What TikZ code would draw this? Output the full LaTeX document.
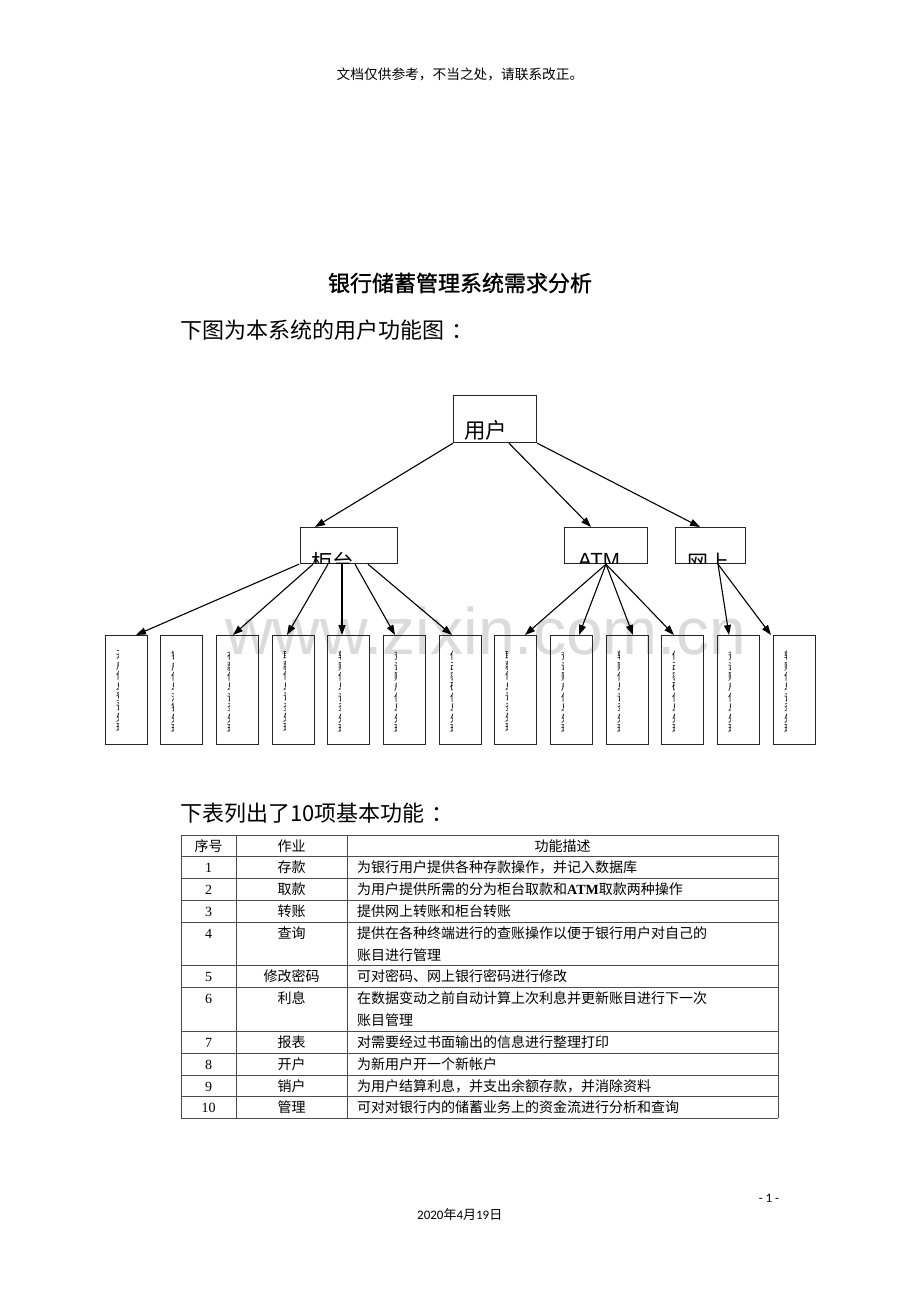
\documentclass[tikz,border=0pt]{standalone}
\usepackage{fontspec}
\setmainfont{Liberation Serif}
\newfontfamily\cjk{Noto Sans CJK SC}
\newfontfamily\cjkbold{Noto Sans CJK SC}[FakeBold=1.2]
\newfontfamily\arialf{Liberation Sans}
\newfontfamily\carl{Carlito}
\usetikzlibrary{arrows.meta,calc}
\newcommand\fsz[1]{\fontsize{#1}{#1}\selectfont}
\begin{document}
\begin{tikzpicture}[x=1pt,y=-1pt,
  box/.style={draw=black!85,line width=1.2pt,inner sep=0pt,anchor=north west},
  leaf/.style={box,minimum width=42pt,minimum height=109pt},
  arr/.style={line width=1.1pt,-{Triangle[length=10pt,width=7pt]}},
  tline/.style={draw=black!70,line width=0.9pt},
  tt/.style={font=\cjk\fsz{14},anchor=base,inner sep=0pt},
  tn/.style={font=\fsz{14},anchor=base,inner sep=0pt},
  td/.style={font=\cjk\fsz{14},anchor=base west,inner sep=0pt},
  lt/.style={anchor=north west,inner sep=0pt,align=left,font=\cjk\fontsize{10}{10.4}\selectfont}
]
\fill[white] (0,0) rectangle (920,1302);
\useasboundingbox (0,0) rectangle (920,1302);

% watermark
\node[anchor=base west,font=\arialf\fsz{66},text=black!14,inner sep=0pt] (wm) at (225,654) {www.zixin.com.cn};

% header / titles
\node[font=\cjk\fsz{13.7},inner sep=0pt] (hdr) at (460,74) {文档仅供参考，不当之处，请联系改正。};
\node[font=\cjkbold\fsz{22},inner sep=0pt] (title) at (460,283) {银行储蓄管理系统需求分析};
\node[font=\cjk\fsz{22},anchor=west,inner sep=0pt] (sub1) at (180,330) {下图为本系统的用户功能图\hspace{7pt}：};
\node[font=\cjk\fsz{22},anchor=west,inner sep=0pt] (sub2) at (180,813) {下表列出了10项基本功能\hspace{7pt}：};

% boxes
\node[box,minimum width=83pt,minimum height=47pt] (u) at (453,395) {};
\node[box,minimum width=97pt,minimum height=36pt] (gt) at (300,527) {};
\node[box,minimum width=83pt,minimum height=36pt] (atm) at (564,527) {};
\node[box,minimum width=70pt,minimum height=36pt] (wl) at (675,527) {};
\node[anchor=base west,font=\cjk\fsz{21.5},inner sep=0pt] (ut) at (464,438) {用户};
\begin{scope}
\clip ($(gt.north west)+(0.6,0.6)$) rectangle ($(gt.south east)+(-0.6,-0.6)$);
\node[anchor=base west,font=\cjk\fsz{21.5},inner sep=0pt] (gtt) at (311,570.5) {柜台};
\end{scope}
\begin{scope}
\clip ($(atm.north west)+(0.6,0.6)$) rectangle ($(atm.south east)+(-0.6,-0.6)$);
\node[anchor=base west,font=\arialf\fsz{20.5},inner sep=0pt] (atmt) at (578,567) {ATM};
\end{scope}
\begin{scope}
\clip ($(wl.north west)+(0.6,0.6)$) rectangle ($(wl.south east)+(-0.6,-0.6)$);
\node[anchor=base west,font=\cjk\fsz{21},inner sep=0pt] (wlt) at (687,570.5) {网上};
\end{scope}

% leaves
\foreach \x [count=\i] in {105,160,216,272,327,383,439,494,550,606,661,717,773}
  \node[leaf] (l\i) at (\x,635) {};

% clipped vertical leaf texts
\foreach \x/\t in {
 105/{开\\户\\信\\息\\登\\记\\处\\理},
 160/{销\\户\\信\\息\\注\\销\\处\\理},
 216/{存\\款\\信\\息\\记\\录\\处\\理},
 272/{取\\款\\信\\息\\记\\录\\处\\理},
 327/{转\\账\\信\\息\\记\\录\\处\\理},
 383/{查\\询\\账\\户\\信\\息\\处\\理},
 439/{修\\改\\密\\码\\信\\息\\处\\理},
 494/{取\\款\\信\\息\\记\\录\\处\\理},
 550/{查\\询\\账\\户\\信\\息\\处\\理},
 606/{转\\账\\信\\息\\记\\录\\处\\理},
 661/{修\\改\\密\\码\\信\\息\\处\\理},
 717/{查\\询\\账\\户\\信\\息\\处\\理},
 773/{转\\账\\信\\息\\记\\录\\处\\理}}
{
  \begin{scope}
  \clip (\x+11.8,637) rectangle (\x+13.6,742);
  \node[lt] at (\x+11,651) {\t};
  \end{scope}
}

% connectors
\draw[arr] (u.south west) -- ([xshift=15pt]gt.north west);
\draw[arr] ([xshift=56pt]u.south west) -- ([xshift=27pt]atm.north west);
\draw[arr] (u.south east) -- ([xshift=25pt]wl.north west);

\draw[arr] ([xshift=-1pt]gt.south west) -- ([xshift=31pt]l1.north west);
\draw[arr] ([xshift=13pt]gt.south west) -- ([xshift=17pt]l3.north west);
\draw[arr] ([xshift=28pt]gt.south west) -- ([xshift=15pt]l4.north west);
\draw[arr] ([xshift=42pt]gt.south west) -- ([xshift=15pt]l5.north west);
\draw[arr] ([xshift=55pt]gt.south west) -- ([xshift=12pt]l6.north west);
\draw[arr] ([xshift=68pt]gt.south west) -- ([xshift=13pt]l7.north west);

\draw[arr] ([xshift=42pt]atm.south west) -- ([xshift=31pt]l8.north west);
\draw[arr] ([xshift=42pt]atm.south west) -- ([xshift=29pt]l9.north west);
\draw[arr] ([xshift=42pt]atm.south west) -- ([xshift=27pt]l10.north west);
\draw[arr] ([xshift=42pt]atm.south west) -- ([xshift=13pt]l11.north west);

\draw[arr] ([xshift=43pt]wl.south west) -- ([xshift=12pt]l12.north west);
\draw[arr] ([xshift=43pt]wl.south west) -- ([xshift=-2pt]l13.north west);

% table grid
\foreach \y in {835,856,878,900,922,965,987,1031,1053,1075,1096,1118}
  \draw[tline] (181,\y) -- (778,\y);
\foreach \x in {181,236,347,778}
  \draw[tline] (\x,835) -- (\x,1118);

% table header
\node[tt] (th1) at (208.5,851) {序号};
\node[tt] (th2) at (291.5,851) {作业};
\node[tt] (th3) at (562.5,851) {功能描述};

% rows
\node[tn] at (208.5,872) {1};  \node[tt] at (291.5,872) {存款};
\node[td] at (357,872) {为银行用户提供各种存款操作，并记入数据库};
\node[tn] at (208.5,894) {2};  \node[tt] at (291.5,894) {取款};
\node[td] at (357,894) {为用户提供所需的分为柜台取款和{\rmfamily\bfseries\fsz{14}ATM}取款两种操作};
\node[tn] at (208.5,916) {3};  \node[tt] at (291.5,916) {转账};
\node[td] at (357,916) {提供网上转账和柜台转账};
\node[tn] at (208.5,938) {4};  \node[tt] at (291.5,938) {查询};
\node[td] at (357,938) {提供在各种终端进行的查账操作以便于银行用户对自己的};
\node[td] at (357,960) {账目进行管理};
\node[tn] at (208.5,981) {5};  \node[tt] at (291.5,981) {修改密码};
\node[td] at (357,981) {可对密码、网上银行密码进行修改};
\node[tn] at (208.5,1003) {6};  \node[tt] at (291.5,1003) {利息};
\node[td] at (357,1003) {在数据变动之前自动计算上次利息并更新账目进行下一次};
\node[td] at (357,1025) {账目管理};
\node[tn] at (208.5,1047) {7};  \node[tt] at (291.5,1047) {报表};
\node[td] at (357,1047) {对需要经过书面输出的信息进行整理打印};
\node[tn] at (208.5,1069) {8};  \node[tt] at (291.5,1069) {开户};
\node[td] at (357,1069) {为新用户开一个新帐户};
\node[tn] at (208.5,1091) {9};  \node[tt] at (291.5,1091) {销户};
\node[td] at (357,1091) {为用户结算利息，并支出余额存款，并消除资料};
\node[tn] at (208.5,1112) {10}; \node[tt] at (291.5,1112) {管理};
\node[td] at (357,1112) {可对对银行内的储蓄业务上的资金流进行分析和查询};

% footer
\node[font=\carl\fsz{13},anchor=base,inner sep=0pt] (pg) at (769,1202) {- 1 -};
\node[font=\carl\fsz{13},anchor=base west,inner sep=0pt] (dt) at (417,1219) {2020{\cjk 年}4{\cjk 月}19{\cjk 日}};
\end{tikzpicture}
\end{document}
